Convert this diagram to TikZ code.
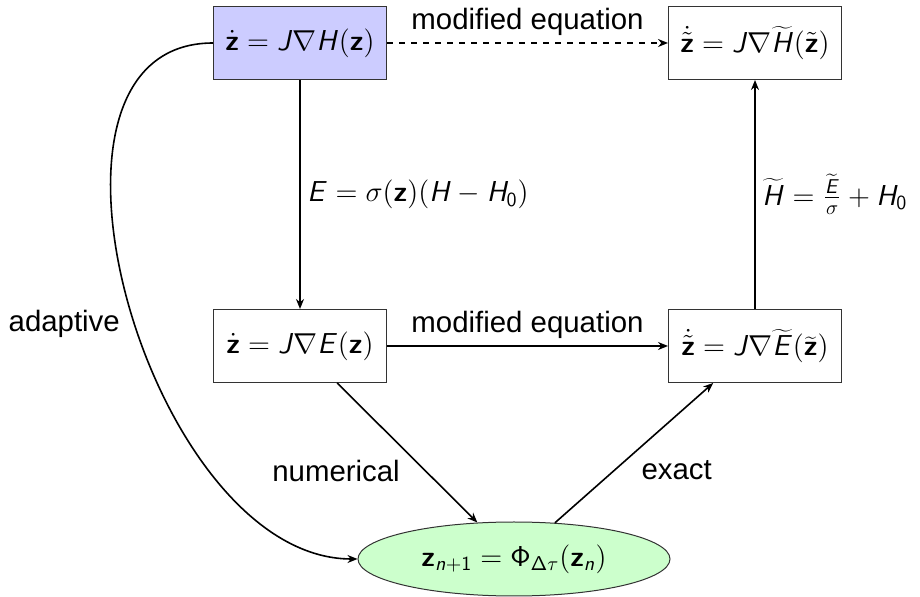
\documentclass[tikz,border=0pt]{standalone}
\usepackage{fontspec}
\setmainfont{Liberation Sans}
\usepackage{tikz}
\usetikzlibrary{arrows.meta,shapes.geometric}
\DeclareMathAlphabet{\msi}{OT1}{cmss}{m}{sl}
\DeclareMathAlphabet{\msb}{OT1}{cmss}{bx}{n}
\DeclareMathAlphabet{\msr}{OT1}{cmss}{m}{n}
\definecolor{HamBlue}{HTML}{CCCCFF}
\definecolor{StepGreen}{HTML}{CCFFCC}
\definecolor{BoxLine}{HTML}{333333}

\begin{document}
\begin{tikzpicture}[font=\fontsize{14.7}{17}\selectfont, x=0.5pt, y=-0.5pt,
  eqbox/.style={draw=BoxLine, line width=0.5pt, minimum width=86.5pt, minimum height=36.5pt, inner xsep=4pt},
  flow/.style={-{Stealth[length=5pt,width=4pt]}, line width=0.8pt}]
  \useasboundingbox (0,0) rectangle (920,597);

  % the four equations
  \node[eqbox, fill=HamBlue] (ham) at (300,43) {$\dot{\msb z} = \msi{J}\nabla \msi{H}(\msb z)$};
  \node[eqbox] (hamtil) at (755,43) {$\dot{\tilde{\msb z}} = \msi{J}\nabla \widetilde{\msi{H}}(\tilde{\msb z})$};
  \node[eqbox] (energy) at (300,346) {$\dot{\msb z} = \msi{J}\nabla \msi{E}(\msb z)$};
  \node[eqbox] (enertil) at (755,346) {$\dot{\tilde{\msb z}} = \msi{J}\nabla \widetilde{\msi{E}}(\widetilde{\msb z})$};
  % the scheme
  \node[ellipse, draw=BoxLine, line width=0.5pt, fill=StepGreen, minimum width=156pt, minimum height=37pt]
    (step) at (514,559) {$\msb z_{\msi{n}+\msr{1}} = \msr{\Phi}_{\msr{\Delta}\tau}(\msb z_{\msi{n}})$};

  \draw[flow, dashed] (ham) -- node[above] {modified equation} (hamtil);
  \draw[flow] (ham) -- node[right] {$\msi{E} = \sigma(\msb z)(\msi{H} - \msi{H}_{\msr{0}})$} (energy);
  \draw[flow] (energy) -- node[above] {modified equation} (enertil);
  \draw[flow] (enertil) -- node[right] {$\widetilde{\msi{H}} = \frac{\widetilde{\msi{E}}}{\sigma} + \msi{H}_{\msr{0}}$} (hamtil);
  \draw[flow] (energy) -- node[below left] {numerical} (step);
  \draw[flow] (step) -- node[below right] {exact} (enertil);
  \draw[flow] (ham.west) to[out=180, in=180] node[pos=0.53, left, xshift=-4pt] {adaptive} (step.west);
\end{tikzpicture}
\end{document}
